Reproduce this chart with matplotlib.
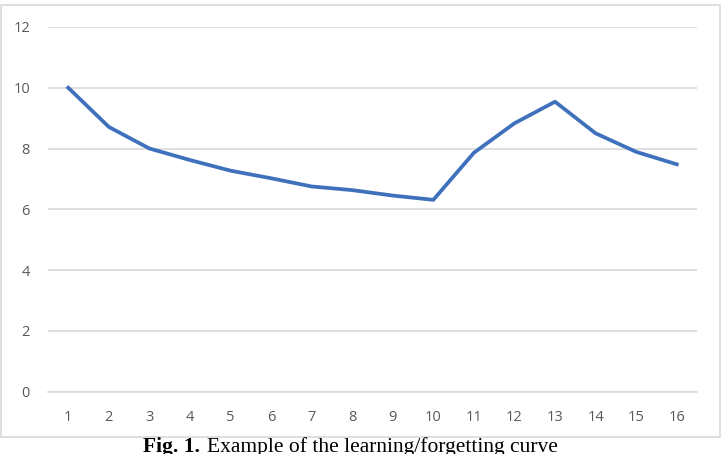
import numpy as np
import matplotlib.pyplot as plt
from matplotlib.patches import Rectangle

# data
x_labels = [str(i) for i in range(1, 17)]
values = [10.0, 8.71, 8.0, 7.62, 7.27, 7.02, 6.75, 6.63, 6.45, 6.31,
          7.86, 8.83, 9.54, 8.5, 7.89, 7.48]
y_ticks = [0, 2, 4, 6, 8, 10, 12]

W, H = 722, 454
fig = plt.figure(figsize=(W / 100, H / 100), dpi=100)

# chart frame (light grey box like an Excel chart area)
fig.patches.append(Rectangle((1 / W, 1 - 436.5 / H), 719 / W, 432 / H,
                             transform=fig.transFigure, fill=False,
                             edgecolor='#d9d9d9', linewidth=1.2))

ax = fig.add_axes([48 / W, 1 - 391.5 / H, (697 - 48) / W, (391.5 - 27) / H])
xs = np.arange(1, len(values) + 1)
ax.plot(xs, values, color='#3e70bc', linewidth=2.7, solid_joinstyle='round')

ax.set_xlim(0.5, 16.5)
ax.set_ylim(0, 12)
ax.set_yticks(y_ticks)
ax.set_xticks(xs)
ax.set_xticklabels(x_labels)
ax.grid(axis='y', color='#d9d9d9', linewidth=1.2)
ax.set_axisbelow(True)
for s in ax.spines.values():
    s.set_visible(False)
ax.spines['bottom'].set_visible(True)
ax.spines['bottom'].set_color('#d9d9d9')
ax.spines['bottom'].set_linewidth(1.2)
ax.tick_params(length=0, labelsize=10.5, labelcolor='#595959')
ax.tick_params(axis='x', pad=13.5)
ax.tick_params(axis='y', pad=13)
for lab in ax.get_xticklabels() + ax.get_yticklabels():
    lab.set_fontfamily('Open Sans')

# caption sits below the chart box, partly cut by the bottom edge as in the source
fig.text(143 / W, 1 - 452 / H, 'Fig. 1.', fontfamily='Liberation Serif',
         fontweight='bold', fontsize=15.5, ha='left', va='baseline')
fig.text(207 / W, 1 - 452 / H, 'Example of the learning/forgetting curve',
         fontfamily='Liberation Serif', fontsize=15.5, ha='left', va='baseline')

fig.savefig('out.png', dpi=100)
